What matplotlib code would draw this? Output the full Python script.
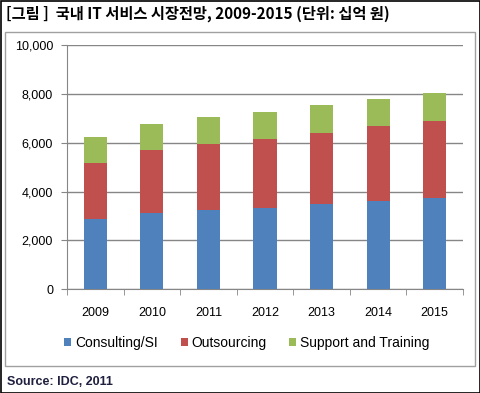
import matplotlib.pyplot as plt
from matplotlib.patches import Rectangle

# data (unit: billion won)
years = ['2009', '2010', '2011', '2012', '2013', '2014', '2015']
consulting = [2880, 3120, 3260, 3340, 3500, 3610, 3750]
outsourcing = [2290, 2590, 2700, 2810, 2890, 3080, 3130]
support = [1060, 1050, 1090, 1100, 1150, 1090, 1150]

series_names = ['Consulting/SI', 'Outsourcing', 'Support and Training']
colors = ['#4F81BD', '#C0504D', '#9BBB59']

plt.rcParams['font.family'] = ['Liberation Sans', 'DejaVu Sans']

fig = plt.figure(figsize=(4.8, 3.93), dpi=100)
ax = fig.add_axes([67/480, 1-289.3/393, 396/480, 244.5/393])

x = range(len(years))
bottom = [0]*len(years)
for vals, name, c in zip([consulting, outsourcing, support], series_names, colors):
    ax.bar(x, vals, bottom=bottom, width=0.41, color=c, label=name, zorder=3)
    bottom = [b + v for b, v in zip(bottom, vals)]

ax.set_ylim(0, 10000)
ax.set_xlim(-0.5, len(years)-0.5)
ax.set_yticks(range(0, 10001, 2000))
ax.set_yticklabels(['{:,}'.format(v) for v in range(0, 10001, 2000)], fontsize=9)
ax.yaxis.grid(True, color='#868686', linewidth=1, zorder=0)
ax.set_xticks(list(x))
ax.set_xticklabels(years, fontsize=9)
ax.tick_params(axis='x', length=0, pad=13)
ax.set_xticks([i - 0.5 for i in range(len(years)+1)], minor=True)
ax.tick_params(axis='x', which='minor', length=4, color='#868686', direction='out')
ax.tick_params(axis='y', length=4, color='#868686', direction='out', pad=6)
for s in ['top', 'right']:
    ax.spines[s].set_visible(False)
for s in ['left', 'bottom']:
    ax.spines[s].set_color('#868686')

ax.legend(loc='center', bbox_to_anchor=(247/480, 1-343/393), bbox_transform=fig.transFigure,
          ncol=3, frameon=False, fontsize=10, handlelength=0.5, handleheight=0.5,
          handletextpad=0.3, columnspacing=1.6)

# frames
fig.patches.append(Rectangle((5/480, 1-366/393), 470/480, 334/393, transform=fig.transFigure,
                             fill=False, edgecolor='#A0A0A0', linewidth=1))
fig.patches.append(Rectangle((0.5/480, 0.5/393), 479/480, 392/393, transform=fig.transFigure,
                             fill=False, edgecolor='black', linewidth=1.2))

fig.text(6/480, 1-14/393, '[그림 ]  국내 IT 서비스 시장전망, 2009-2015 (단위: 십억 원)',
         family=['Noto Sans CJK KR', 'DejaVu Sans'], fontsize=11, fontweight='bold',
         va='center', ha='left')
fig.text(7/480, 1-382/393, 'Source: IDC, 2011', fontsize=9, fontweight='bold',
         color='#1F1F3F', va='center', ha='left')

fig.savefig('out.png', dpi=100)
